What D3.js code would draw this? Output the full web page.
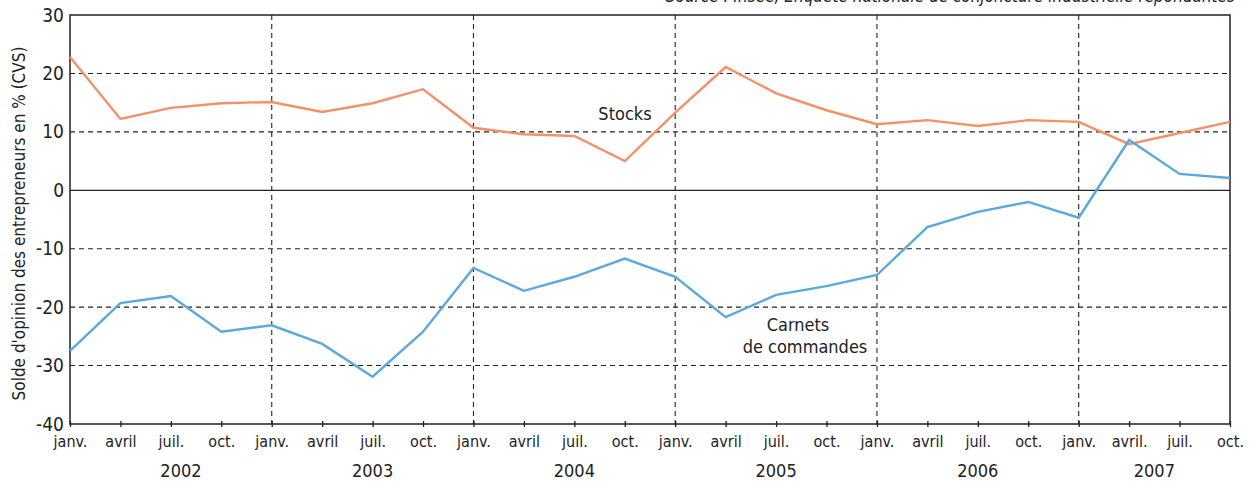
<!DOCTYPE html>
<html>
<head>
<meta charset="utf-8">
<script src="https://cdn.jsdelivr.net/npm/d3@7"></script>
<style>
  body { margin: 0; background: #fff; }
  svg text { font-family: "DejaVu Sans Condensed", "DejaVu Sans", sans-serif; font-stretch: condensed; fill: #222; }
</style>
</head>
<body>
<div id="chart"></div>
<script>
// Quarterly data, janv. 2002 -> oct. 2007
const months = ["janv.", "avril", "juil.", "oct.",
                "janv.", "avril", "juil.", "oct.",
                "janv.", "avril", "juil.", "oct.",
                "janv.", "avril", "juil.", "oct.",
                "janv.", "avril", "juil.", "oct.",
                "janv.", "avril.", "juil.", "oct."];
const years = ["2002", "2003", "2004", "2005", "2006", "2007"];
const yearCenters = [2.2, 6, 10, 14, 18, 21.5];
const yearStarts = [4, 8, 12, 16, 20];

const stocks = [22.8, 12.2, 14.1, 14.9, 15.1, 13.4, 14.9, 17.3,
                10.7, 9.6, 9.3, 5.0, 13.3, 21.1, 16.6, 13.7,
                11.3, 12.0, 11.0, 12.0, 11.7, 7.9, 9.8, 11.7];
const carnets = [-27.5, -19.3, -18.1, -24.2, -23.1, -26.3, -31.9, -24.2,
                 -13.3, -17.2, -14.8, -11.7, -14.8, -21.7, -17.9, -16.4,
                 -14.5, -6.3, -3.7, -2.0, -4.7, 8.6, 2.8, 2.1];
const yTicks = [30, 20, 10, 0, -10, -20, -30, -40];
const gridValues = [20, 10, -10, -20, -30];

const width = 1254, height = 483;
const margin = { top: 15, right: 24, bottom: 59, left: 70 };

const svg = d3.select("#chart").append("svg")
    .attr("width", width).attr("height", height);

const x = d3.scaleLinear().domain([0, months.length - 1])
    .range([margin.left, width - margin.right]);
const y = d3.scaleLinear().domain([-40, 30])
    .range([height - margin.bottom, margin.top]);

const ink = "#222";

// Source line (clipped by top of picture, as in the original)
svg.append("text")
    .attr("x", 1235).attr("y", 2)
    .attr("text-anchor", "end")
    .attr("font-style", "italic")
    .attr("font-size", 17)
    .text("Source : Insee, Enquête nationale de conjoncture industrielle répondantes");

// Horizontal dashed grid
svg.append("g").selectAll("line").data(gridValues).enter().append("line")
    .attr("x1", x(0)).attr("x2", x(months.length - 1))
    .attr("y1", d => y(d)).attr("y2", d => y(d))
    .attr("stroke", ink).attr("stroke-width", 1.1)
    .attr("stroke-dasharray", "5,4");

// Vertical dashed year separators
svg.append("g").selectAll("line").data(yearStarts).enter().append("line")
    .attr("x1", d => x(d)).attr("x2", d => x(d))
    .attr("y1", y(30)).attr("y2", y(-40))
    .attr("stroke", ink).attr("stroke-width", 1.1)
    .attr("stroke-dasharray", "5,4");

// Zero line
svg.append("line")
    .attr("x1", x(0)).attr("x2", x(months.length - 1))
    .attr("y1", y(0)).attr("y2", y(0))
    .attr("stroke", ink).attr("stroke-width", 1.3);

// Frame
svg.append("path")
    .attr("d", `M${x(0)},${y(-40)}V${y(30)}H${x(months.length - 1)}V${y(-40)}Z`)
    .attr("fill", "none").attr("stroke", ink).attr("stroke-width", 1.5);

// Bottom axis with quarter ticks
const xAxis = d3.axisBottom(x)
    .tickValues(d3.range(months.length))
    .tickFormat(i => months[i])
    .tickSizeInner(4).tickSizeOuter(0).tickPadding(5);
const gx = svg.append("g")
    .attr("transform", `translate(0,${y(-40)})`)
    .call(xAxis);
gx.select(".domain").remove();
gx.selectAll(".tick line").attr("stroke", ink).attr("stroke-width", 1.3).attr("y1", -3).attr("y2", 3);
gx.selectAll(".tick text").attr("font-size", 16).attr("fill", ink)
    .attr("font-family", null).attr("dy", "0.9em");

// Year labels
svg.append("g").selectAll("text").data(years).enter().append("text")
    .attr("x", (d, i) => x(yearCenters[i]))
    .attr("y", 477)
    .attr("text-anchor", "middle")
    .attr("font-size", 18)
    .text(d => d);

// Left axis (plain hyphen for negatives, as printed)
const yAxis = d3.axisLeft(y).tickValues(yTicks).tickFormat(d => String(d))
    .tickSize(0).tickPadding(6);
const gy = svg.append("g")
    .attr("transform", `translate(${margin.left},0)`)
    .call(yAxis);
gy.select(".domain").remove();
gy.selectAll(".tick text").attr("font-size", 19).attr("fill", ink).attr("font-family", null);

// Y axis title
svg.append("text")
    .attr("transform", `translate(25,${(y(30) + y(-40)) / 2 + 4}) rotate(-90)`)
    .attr("text-anchor", "middle")
    .attr("font-size", 17)
    .text("Solde d'opinion des entrepreneurs en % (CVS)");

// Series lines
const line = d3.line().x((d, i) => x(i)).y(d => y(d));
svg.append("path").datum(stocks)
    .attr("d", line).attr("fill", "none")
    .attr("stroke", "#f4906a").attr("stroke-width", 2.4);
svg.append("path").datum(carnets)
    .attr("d", line).attr("fill", "none")
    .attr("stroke", "#5aa9de").attr("stroke-width", 2.4);

// Series labels
svg.append("text").attr("x", 625).attr("y", 120)
    .attr("text-anchor", "middle").attr("font-size", 18).text("Stocks");
svg.append("text").attr("x", 798).attr("y", 331)
    .attr("text-anchor", "middle").attr("font-size", 18).text("Carnets");
svg.append("text").attr("x", 805).attr("y", 353)
    .attr("text-anchor", "middle").attr("font-size", 18).text("de commandes");
</script>
</body>
</html>
